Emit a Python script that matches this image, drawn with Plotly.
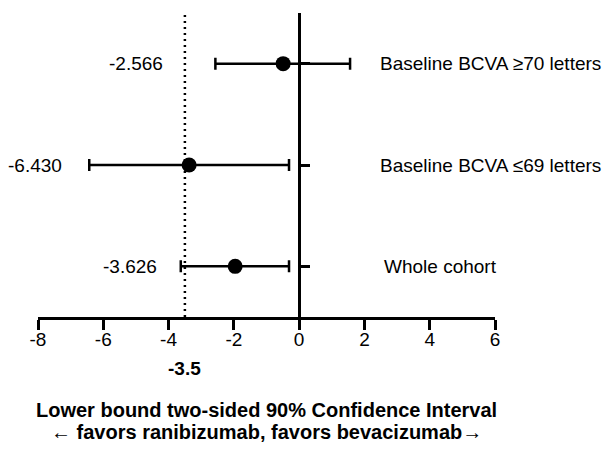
import plotly.graph_objects as go

categories = ["Whole cohort", "Baseline BCVA \u226469 letters", "Baseline BCVA \u226570 letters"]
estimates = [-1.96, -3.37, -0.49]
lower = [-3.626, -6.430, -2.566]
upper = [-0.31, -0.31, 1.56]
lower_labels = ["-3.626", "-6.430", "-2.566"]
margin_limit = -3.5
x_ticks = [-8, -6, -4, -2, 0, 2, 4, 6]
title_lines = ["Lower bound two-sided 90% Confidence Interval",
               "\u2190 favors ranibizumab, favors bevacizumab\u2192"]

ypos = list(range(len(categories)))
FONT = "Liberation Sans, Arial, sans-serif"
FS = 19

fig = go.Figure()
fig.add_trace(go.Scatter(
    x=estimates, y=ypos, mode="markers",
    marker=dict(color="black", size=15, symbol="circle"),
    error_x=dict(type="data", symmetric=False,
                 array=[u - e for u, e in zip(upper, estimates)],
                 arrayminus=[e - l for e, l in zip(estimates, lower)],
                 color="black", thickness=2.5, width=6),
    showlegend=False, cliponaxis=False,
))

# dotted margin line
fig.add_shape(type="line", xref="x", yref="y", x0=margin_limit, x1=margin_limit,
              y0=-0.5, y1=2.5, line=dict(color="black", width=2.5, dash="2px,4px"))

label_shifts = [-22, -25, -50]
for i, (l, t) in enumerate(zip(lower, lower_labels)):
    fig.add_annotation(x=l, y=ypos[i], xref="x", yref="y", text=t, showarrow=False,
                       xanchor="right", xshift=label_shifts[i],
                       font=dict(family=FONT, size=FS, color="black"))

cat_x = [2.55, 2.42, 2.42]
for i, c in enumerate(categories):
    fig.add_annotation(x=cat_x[i], y=ypos[i], xref="x", yref="y", text=c, showarrow=False,
                       xanchor="left", font=dict(family=FONT, size=FS, color="black"))

fig.add_annotation(x=margin_limit, y=0, xref="x", yref="paper", text="<b>-3.5</b>",
                   showarrow=False, yanchor="middle", yshift=-51,
                   font=dict(family=FONT, size=FS, color="black"))

for k, line in enumerate(title_lines):
    fig.add_annotation(x=0.5, y=0, xref="paper", yref="paper", text="<b>" + line + "</b>",
                       showarrow=False, xanchor="center", yanchor="middle",
                       yshift=-93 - 22 * k,
                       font=dict(family=FONT, size=20, color="black"))

fig.update_layout(
    width=608, height=442,
    margin=dict(l=30, r=121, t=5, b=133, autoexpand=False),
    plot_bgcolor="white", paper_bgcolor="white",
    font=dict(family=FONT, size=FS, color="black"),
    xaxis=dict(range=[-8, 6], tickvals=x_ticks, ticktext=[str(v) for v in x_ticks],
               showgrid=False, zeroline=False, showline=True, linecolor="black",
               linewidth=2.5, ticks="outside", ticklen=10, tickwidth=2.5, tickcolor="black",
               ticklabelstandoff=-7,
               tickfont=dict(family=FONT, size=FS)),
    yaxis=dict(range=[-0.5, 2.5], tickvals=ypos, showticklabels=False,
               showgrid=False, zeroline=False, showline=True, linecolor="black",
               linewidth=2.5, ticks="outside", ticklen=9, tickwidth=2.5, tickcolor="black",
               side="right", anchor="free", position=8/14),
)

fig.write_html("out.html")
